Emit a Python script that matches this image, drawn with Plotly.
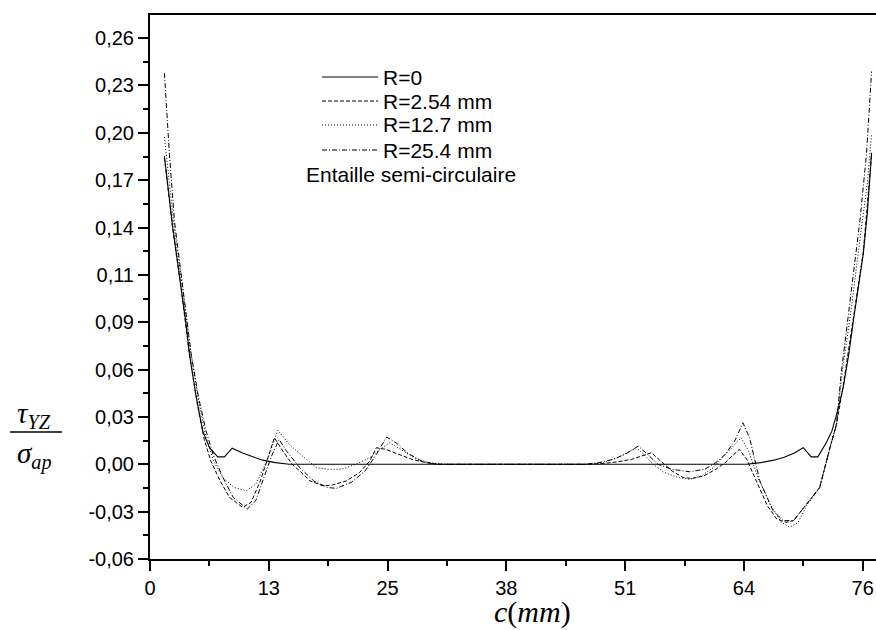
import plotly.graph_objects as go

# ---------------- data ----------------
x_r0 = [1.54, 2.0, 2.43, 2.9, 3.33, 3.8, 4.22, 4.9, 5.64, 6.36, 7.24, 7.96, 8.78, 9.9, 11.0, 12.06, 13.4, 14.9,
        20, 30, 40, 50, 58, 63.8, 65.3, 66.7, 67.8, 68.9, 69.84, 70.7, 71.4, 72.3, 72.9, 73.5, 74.1, 74.7,
        75.2, 75.8, 76.26, 76.7, 77.15]
y_r0 = [0.186, 0.162, 0.143, 0.124, 0.107, 0.087, 0.0665, 0.042, 0.020, 0.010, 0.0045, 0.0045, 0.0097, 0.0068,
        0.0045, 0.0025, 0.001, 0.0, 0, 0, 0, 0, 0, 0.0, 0.001, 0.0025, 0.0042, 0.0068, 0.0100, 0.0045, 0.0045,
        0.013, 0.020, 0.032, 0.046, 0.066, 0.0866, 0.108, 0.127, 0.152, 0.188]

x_r254 = [1.54, 2.0, 2.43, 2.9, 3.33, 4.22, 5.1, 5.8, 6.5, 7.5, 8.5, 9.9, 10.8, 11.8, 12.6, 13.3, 14.2, 15.2,
          16.0, 17.1, 18.5, 19.5, 21.0, 22.4, 23.5, 24.2, 25.2, 26.5, 28.0, 29.5, 31.0, 40, 46.5, 48.5, 50.0,
          51.5, 53.6, 54.6, 55.8, 57.0, 58.0, 59.2, 60.5, 61.5, 62.3, 63.0, 63.8, 64.8, 66.0, 67.0, 68.0, 68.8,
          70.2, 71.6, 72.7, 73.4, 74.1, 75.2, 76.26, 77.15]
y_r254 = [0.185, 0.162, 0.142, 0.123, 0.106, 0.066, 0.035, 0.015, 0.002, -0.010, -0.020, -0.026, -0.023, -0.010,
          0.004, 0.016, 0.008, 0.000, -0.004, -0.010, -0.013, -0.0125, -0.010, -0.005, 0.002, 0.010, 0.009,
          0.006, 0.003, 0.001, 0.0, 0.0, 0.0, 0.0005, 0.0015, 0.003, 0.007, 0.002, -0.004, -0.008, -0.0085,
          -0.007, -0.003, 0.001, 0.005, 0.009, 0.003, -0.010, -0.025, -0.033, -0.035, -0.034, -0.024, -0.014,
          0.010, 0.024, 0.047, 0.088, 0.128, 0.187]

x_r127 = [1.54, 2.08, 2.61, 3.4, 4.3, 5.2, 6.0, 6.8, 7.78, 9.0, 10.3, 11.3, 12.5, 13.67, 14.9, 16.3, 17.8, 19.0,
          20.5, 22.0, 23.5, 24.6, 25.6, 26.8, 28.2, 29.8, 31.5, 40, 47.0, 48.5, 50.0, 51.0, 52.0, 52.8, 53.8,
          55.0, 56.5, 57.7, 59.0, 60.2, 61.2, 62.2, 63.2, 64.0, 65.0, 66.3, 67.5, 68.4, 69.3, 70.2, 71.6, 72.7,
          73.4, 74.0, 75.0, 76.0, 76.7, 77.15]
y_r127 = [0.1975, 0.168, 0.142, 0.110, 0.070, 0.038, 0.016, 0.002, -0.008, -0.014, -0.016, -0.012, 0.002,
          0.0206, 0.012, 0.005, -0.002, -0.003, -0.003, 0.000, 0.004, 0.009, 0.013, 0.009, 0.004, 0.001, 0.0,
          0.0, 0.0, 0.001, 0.004, 0.007, 0.010, 0.006, 0.000, -0.005, -0.008, -0.009, -0.007, -0.002, 0.004,
          0.010, 0.016, 0.008, -0.008, -0.024, -0.035, -0.038, -0.035, -0.025, -0.014, 0.010, 0.025, 0.055,
          0.095, 0.140, 0.170, 0.1995]

x_r254b = [1.54, 2.08, 2.61, 3.5, 4.4, 5.2, 6.0, 6.8, 7.8, 8.9, 10.4, 11.3, 12.2, 13.0, 13.8, 14.6, 16.0, 17.5,
           19.0, 19.9, 21.5, 23.0, 24.2, 25.3, 26.3, 27.5, 29.0, 30.5, 40, 46.5, 48.0, 49.5, 50.8, 52.2, 53.2,
           54.3, 55.8, 57.7, 59.3, 60.5, 61.5, 62.5, 63.4, 64.1, 65.2, 66.6, 67.7, 68.8, 70.2, 71.6, 72.7, 73.4,
           73.9, 75.0, 75.9, 76.6, 77.15]
y_r254b = [0.236, 0.187, 0.147, 0.107, 0.0665, 0.040, 0.020, 0.005, -0.008, -0.020, -0.027, -0.022, -0.008,
           0.005, 0.015, 0.008, -0.002, -0.010, -0.014, -0.0145, -0.011, -0.004, 0.006, 0.0165, 0.013, 0.007,
           0.002, 0.0, 0.0, 0.0, 0.001, 0.003, 0.006, 0.011, 0.006, 0.000, -0.003, -0.0045, -0.003, 0.001,
           0.006, 0.014, 0.025, 0.016, -0.010, -0.028, -0.034, -0.034, -0.024, -0.014, 0.010, 0.024, 0.055,
           0.107, 0.147, 0.187, 0.237]

series_names = ["R=0", "R=2.54 mm", "R=12.7 mm", "R=25.4 mm"]
note_text = "Entaille semi-circulaire"

x_tickvals = [0, 12.7, 25.4, 38.1, 50.8, 63.5, 76.2]
x_ticktext = ["0", "13", "25", "38", "51", "64", "76"]
y_tickvals = [-0.05714, -0.02857, 0.0, 0.02857, 0.05714, 0.08571, 0.11429, 0.14286, 0.17143, 0.2, 0.22857, 0.25714]
y_ticktext = ["-0,06", "-0,03", "0,00", "0,03", "0,06", "0,09", "0,11", "0,14", "0,17", "0,20", "0,23", "0,26"]
x_minor = [6.35, 19.05, 31.75, 44.45, 57.15, 69.85]
y_minor = [-0.04286, -0.01429, 0.01429, 0.04286, 0.07143, 0.1, 0.12857, 0.15714, 0.18571, 0.21429, 0.24286]

# ---------------- styling ----------------
W, H = 876, 630
ML, MR, MT, MB = 150, 0, 15, 71
dashes = ["solid", "4px,2px", "1px,2px", "5px,2px,1px,2px"]
widths = [1.1, 1, 1, 1]
xs = [x_r0, x_r254, x_r127, x_r254b]
ys = [y_r0, y_r254, y_r127, y_r254b]

SANS = "Liberation Sans, Arial, sans-serif"
SERIF = "Liberation Serif, Times New Roman, serif"

def px2x(px):
    return (px - ML) / (W - ML - MR)

def py2y(py):
    return (H - MB - py) / (H - MT - MB)

fig = go.Figure()
for name, xv, yv, d, w in zip(series_names, xs, ys, dashes, widths):
    fig.add_trace(go.Scatter(x=xv, y=yv, mode="lines", name=name,
                             line=dict(color="black", width=w, dash=d), showlegend=False))

# manual legend
shapes = []
annotations = []
leg_rows = [77, 101, 125, 150]
for name, d, ry in zip(series_names, dashes, leg_rows):
    shapes.append(dict(type="line", xref="paper", yref="paper",
                       x0=px2x(322), x1=px2x(378), y0=py2y(ry), y1=py2y(ry),
                       line=dict(color="black", width=1, dash=d)))
    annotations.append(dict(xref="paper", yref="paper", x=px2x(381), y=py2y(ry),
                            xanchor="left", yanchor="middle", showarrow=False, text=name,
                            font=dict(family=SANS, size=21, color="black")))
annotations.append(dict(xref="paper", yref="paper", x=px2x(304), y=py2y(175),
                        xanchor="left", yanchor="middle", showarrow=False, text=note_text,
                        font=dict(family=SANS, size=21, color="black")))

# y axis label as fraction
annotations.append(dict(xref="paper", yref="paper", x=px2x(34), y=py2y(415),
                        xanchor="center", yanchor="middle", showarrow=False,
                        text="<i>τ</i><sub><i>YZ</i></sub>",
                        font=dict(family=SERIF, size=29, color="black")))
annotations.append(dict(xref="paper", yref="paper", x=px2x(34), y=py2y(455),
                        xanchor="center", yanchor="middle", showarrow=False,
                        text="<i>σ</i><sub><i>ap</i></sub>",
                        font=dict(family=SERIF, size=29, color="black")))
shapes.append(dict(type="line", xref="paper", yref="paper",
                   x0=px2x(10), x1=px2x(62), y0=py2y(432), y1=py2y(432),
                   line=dict(color="black", width=1.3)))
# x axis title
annotations.append(dict(xref="paper", yref="paper", x=px2x(532), y=py2y(612),
                        xanchor="center", yanchor="middle", showarrow=False,
                        text="<i>c</i>(<i>mm</i>)",
                        font=dict(family=SERIF, size=30, color="black")))

fig.update_layout(
    width=W, height=H,
    margin=dict(l=ML, r=MR, t=MT, b=MB, pad=0, autoexpand=False),
    paper_bgcolor="white", plot_bgcolor="white",
    shapes=shapes, annotations=annotations,
    showlegend=False,
    xaxis=dict(range=[0, 77.62], showgrid=False, zeroline=False, automargin=False,
               showline=True, linecolor="black", linewidth=2, mirror=True,
               ticks="outside", ticklen=10, tickwidth=1.5, tickcolor="black",
               tickmode="array", tickvals=x_tickvals, ticktext=x_ticktext,
               tickfont=dict(family=SANS, size=20, color="black"),
               minor=dict(tickmode="array", tickvals=x_minor, ticks="outside",
                          ticklen=5, tickwidth=1.5, tickcolor="black", showgrid=False)),
    yaxis=dict(range=[-0.05714, 0.2711], showgrid=False, zeroline=False, automargin=False,
               showline=True, linecolor="black", linewidth=2,
               ticks="outside", ticklen=10, tickwidth=1.5, tickcolor="black",
               tickmode="array", tickvals=y_tickvals, ticktext=y_ticktext,
               tickfont=dict(family=SANS, size=20, color="black"),
               minor=dict(tickmode="array", tickvals=y_minor, ticks="outside",
                          ticklen=5, tickwidth=1.5, tickcolor="black", showgrid=False)),
)

fig.write_html("out.html", config={"displayModeBar": False},
               post_script="document.body.style.margin='0';document.body.style.overflow='hidden';")
